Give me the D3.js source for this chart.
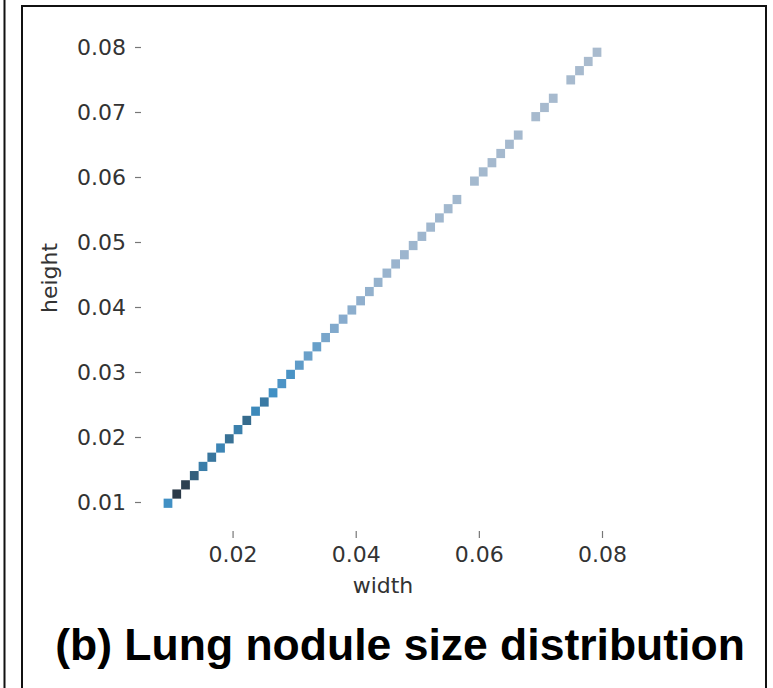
<!DOCTYPE html>
<html>
<head>
<meta charset="utf-8">
<script src="https://cdn.jsdelivr.net/npm/d3@7"></script>
<style>
  body { margin: 0; background: #fff; }
  svg { display: block; }
</style>
</head>
<body>
<div id="chart"></div>
<script>
// counts per diagonal bin (width bin i == height bin i), 50 bins
const binCounts = [
  46, 100, 95, 72, 56, 60, 52, 63, 55, 66,
  50, 58, 46, 42, 43, 36, 32, 33, 27, 24,
  22, 19, 17, 15, 14, 12, 11, 10, 9, 9,
  8, 8, 7, 7, 0, 6, 6, 5, 5, 5,
  5, 0, 4, 4, 4, 0, 4, 4, 3, 3
];
const widthTicks = [0.02, 0.04, 0.06, 0.08];
const heightTicks = [0.01, 0.02, 0.03, 0.04, 0.05, 0.06, 0.07, 0.08];
const widthRange = [0.0088, 0.0799];
const heightRange = [0.0091, 0.0799];

const W = 773, H = 688;
const svg = d3.select("#chart").append("svg").attr("width", W).attr("height", H);

// frame of the figure panel
svg.append("line").attr("x1", 4.5).attr("x2", 4.5).attr("y1", 0).attr("y2", H)
  .attr("stroke", "#111").attr("stroke-width", 2);
svg.append("rect").attr("x", 22).attr("y", 6).attr("width", 744).attr("height", 720)
  .attr("fill", "none").attr("stroke", "#111").attr("stroke-width", 2);

const x = d3.scaleLinear().domain([0.01, 0.08]).range([171, 602]);
const y = d3.scaleLinear().domain([0.01, 0.08]).range([502, 47]);

const nBins = binCounts.length;
const bwX = (widthRange[1] - widthRange[0]) / nBins;
const bwY = (heightRange[1] - heightRange[0]) / nBins;

const cells = binCounts.map((c, i) => ({
  x0: widthRange[0] + i * bwX, x1: widthRange[0] + (i + 1) * bwX,
  y0: heightRange[0] + i * bwY, y1: heightRange[0] + (i + 1) * bwY,
  count: c
})).filter(d => d.count > 0);

const maxC = d3.max(binCounts);
const minC = d3.min(binCounts.filter(c => c > 0));
const colour = d3.scaleLinear()
  .domain([0, 0.2, 0.45, 0.7, 1])
  .range(["#a9bbce", "#86abcd", "#3f8fc4", "#34627f", "#2b3a48"])
  .interpolate(d3.interpolateRgb);

svg.append("g").selectAll("rect")
  .data(cells)
  .enter()
  .append("rect")
  .attr("x", d => x(d.x0))
  .attr("y", d => y(d.y1))
  .attr("width", d => x(d.x1) - x(d.x0))
  .attr("height", d => y(d.y0) - y(d.y1))
  .attr("fill", d => colour((d.count - minC) / (maxC - minC)));

const font = "DejaVu Sans, sans-serif";

// y axis
const yAxis = svg.append("g").attr("transform", "translate(141,0)")
  .call(d3.axisLeft(y).tickValues(heightTicks).tickFormat(d3.format(".2f"))
    .tickSize(6).tickPadding(9));
yAxis.select(".domain").remove();
yAxis.selectAll(".tick line").attr("stroke", "#777").attr("stroke-width", 1.2);
yAxis.selectAll(".tick text").attr("fill", "#333").style("font-family", font)
  .style("font-size", "22px").attr("dy", "0.36em");

// x axis
const xAxis = svg.append("g").attr("transform", "translate(0,531)")
  .call(d3.axisBottom(x).tickValues(widthTicks).tickFormat(d3.format(".2f"))
    .tickSize(7).tickPadding(8));
xAxis.select(".domain").remove();
xAxis.selectAll(".tick line").attr("stroke", "#777").attr("stroke-width", 1.2);
xAxis.selectAll(".tick text").attr("fill", "#333").style("font-family", font)
  .style("font-size", "22px");

svg.append("text").attr("x", 383).attr("y", 593).attr("text-anchor", "middle")
  .attr("fill", "#333").style("font-family", font).style("font-size", "22px")
  .text("width");

svg.append("text").attr("transform", "translate(57,278) rotate(-90)")
  .attr("text-anchor", "middle").attr("fill", "#333")
  .style("font-family", font).style("font-size", "22px").text("height");

svg.append("text").attr("x", 400).attr("y", 660).attr("text-anchor", "middle")
  .attr("fill", "#000").style("font-family", "Liberation Sans, Arial, sans-serif")
  .style("font-weight", "bold").style("font-size", "44.5px")
  .text("(b) Lung nodule size distribution");
</script>
</body>
</html>
